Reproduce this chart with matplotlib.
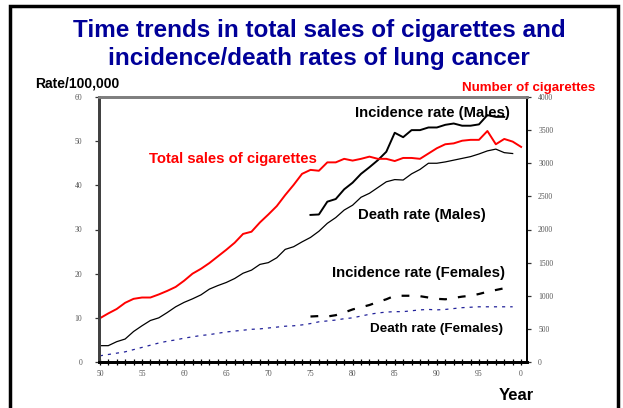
import matplotlib
matplotlib.use("Agg")
import matplotlib.pyplot as plt
from matplotlib.patches import Rectangle
from matplotlib.ticker import MultipleLocator, FixedLocator
import numpy as np

# ---- data ----
years_sales = list(range(1950, 2001))
sales_rate_equiv = [9.9, 11.0, 12.0, 13.4, 14.3, 14.6, 14.6, 15.3, 16.1, 17.0,
                    18.4, 20.0, 21.1, 22.4, 23.9, 25.4, 27.0, 29.0, 29.5, 31.6,
                    33.4, 35.3, 37.8, 40.1, 42.6, 43.5, 43.3, 45.2, 45.2, 46.0,
                    45.6, 46.0, 46.5, 46.0, 46.0, 45.5, 46.2, 46.2, 46.0, 47.2,
                    48.4, 49.3, 49.5, 50.1, 50.3, 50.3, 52.3, 49.3, 50.5, 49.9,
                    48.7]
cig_per_rate = 4000 / 60
sales_cigs = [v * cig_per_rate for v in sales_rate_equiv]

years_death_m = list(range(1950, 2000))
death_m = [3.7, 3.7, 4.6, 5.2, 6.9, 8.2, 9.4, 10.0, 11.2, 12.5,
           13.5, 14.3, 15.2, 16.5, 17.3, 18.0, 18.9, 20.1, 20.8, 22.1,
           22.5, 23.6, 25.5, 26.1, 27.2, 28.2, 29.6, 31.4, 32.7, 34.4,
           35.5, 37.3, 38.2, 39.5, 40.8, 41.3, 41.2, 42.6, 43.6, 45.0,
           45.0, 45.3, 45.7, 46.1, 46.5, 47.1, 47.8, 48.2, 47.4, 47.2]

years_inc_m = list(range(1975, 1999))
inc_m = [33.3, 33.4, 36.3, 36.9, 39.1, 40.6, 42.6, 44.1, 45.7, 47.6,
         51.9, 50.9, 52.5, 52.5, 53.1, 53.1, 53.7, 54.0, 53.5, 53.5,
         53.8, 55.9, 55.5, 55.5]

years_inc_f = list(range(1975, 1999))
inc_f = [10.3, 10.4, 10.3, 10.6, 11.2, 11.9, 12.4, 12.9, 13.6, 14.2,
         15.0, 15.0, 15.0, 14.9, 14.6, 14.3, 14.2, 14.5, 14.8, 15.0,
         15.4, 15.9, 16.3, 16.7]

years_death_f = list(range(1950, 2000))
death_f = [1.4, 1.7, 2.0, 2.3, 2.8, 3.3, 3.8, 4.3, 4.7, 5.0,
           5.4, 5.7, 6.0, 6.2, 6.5, 6.8, 7.0, 7.2, 7.4, 7.5,
           7.7, 7.9, 8.1, 8.2, 8.4, 8.7, 9.1, 9.3, 9.5, 9.8,
           10.0, 10.4, 10.8, 11.1, 11.3, 11.4, 11.4, 11.6, 11.8, 11.9,
           11.8, 11.9, 12.1, 12.3, 12.4, 12.5, 12.5, 12.5, 12.5, 12.5]

left_ticks = [0, 10, 20, 30, 40, 50, 60]
right_ticks = [0, 500, 1000, 1500, 2000, 2500, 3000, 3500, 4000]
x_major = [1950, 1955, 1960, 1965, 1970, 1975, 1980, 1985, 1990, 1995, 2000]
x_labels = ["50", "55", "60", "65", "70", "75", "80", "85", "90", "95", "0"]

# ---- figure ----
W, H = 623, 408
fig = plt.figure(figsize=(W / 100, H / 100), dpi=100)
fig.patch.set_facecolor("white")

# slide border
fig.add_artist(Rectangle((10 / W, -0.05), 608 / W, 1.05 - 6 / H, transform=fig.transFigure,
                         fill=False, edgecolor="black", linewidth=2.5))

ax = fig.add_axes([99 / W, (H - 362) / H, 428 / W, 265 / H])
ax2 = ax.twinx()

sans = ["Liberation Sans", "DejaVu Sans"]
serif = ["Liberation Serif", "DejaVu Serif"]

ax.plot(years_death_m, death_m, color="black", lw=0.9)
ax.plot(years_inc_m, inc_m, color="black", lw=1.4)
ax.plot(years_inc_f, inc_f, color="black", lw=1.6, dashes=(3.5, 5))
ax.plot(years_death_f, death_f, color="#22229a", lw=0.9, dashes=(2.5, 4))
ax2.plot(years_sales, sales_cigs, color="#ff0000", lw=1.4)

ax.set_xlim(1949.9, 2000.7)
ax.set_ylim(0, 60)
ax2.set_ylim(0, 4000)

ax.xaxis.set_major_locator(FixedLocator(x_major))
ax.set_xticklabels(x_labels)
ax.xaxis.set_minor_locator(MultipleLocator(1))
ax.set_yticks(left_ticks)
ax2.set_yticks(right_ticks)

for lab in ax.get_xticklabels() + ax.get_yticklabels() + ax2.get_yticklabels():
    lab.set_fontfamily(serif)
    lab.set_fontsize(5.5)
    lab.set_color("#555555")

ax.tick_params(axis="x", which="both", direction="inout", length=5, width=0.9, color="black", pad=3)
ax.tick_params(axis="y", direction="out", length=3, width=0.9, color="#333333", pad=9)
ax2.tick_params(axis="y", direction="out", length=3, width=0.9, color="#333333", pad=5)

for a in (ax, ax2):
    a.spines["top"].set_color("#7f7f7f")
    a.spines["top"].set_linewidth(2)
    a.spines["left"].set_color("#404040")
    a.spines["left"].set_linewidth(2)
    a.spines["bottom"].set_color("black")
    a.spines["bottom"].set_linewidth(2)
    a.spines["right"].set_color("black")
    a.spines["right"].set_linewidth(1.3)

# titles and labels
fig.text(319 / W, 1 - 31 / H, "Time trends in total sales of cigarettes and",
         ha="center", va="center", fontsize=17.5, fontweight="bold", color="#000099", family=sans)
fig.text(319 / W, 1 - 59 / H, "incidence/death rates of lung cancer",
         ha="center", va="center", fontsize=17.5, fontweight="bold", color="#000099", family=sans)
fig.text(35 / W, 1 - 83 / H, "Rate/100,000", ha="left", va="center",
         fontsize=10, fontweight="bold", color="black", family=sans)
fig.text(595 / W, 1 - 88 / H, "Number of cigarettes", ha="right", va="center",
         fontsize=9.6, fontweight="bold", color="#ff0000", family=sans)
fig.text(516 / W, 1 - 395 / H, "Year", ha="center", va="center",
         fontsize=12, fontweight="bold", color="black", family=sans)

def label(x, y, s, color="black", size=10.7):
    fig.text(x / W, 1 - y / H, s, ha="center", va="center", fontsize=size,
             fontweight="bold", color=color, family=sans)

label(233, 159, "Total sales of cigarettes", "#ff0000")
label(432, 113, "Incidence rate (Males)")
label(422, 215, "Death rate (Males)")
label(419, 273, "Incidence rate (Females)")
label(437, 329, "Death rate (Females)", size=9.7)

fig.savefig("out.png", dpi=100)
